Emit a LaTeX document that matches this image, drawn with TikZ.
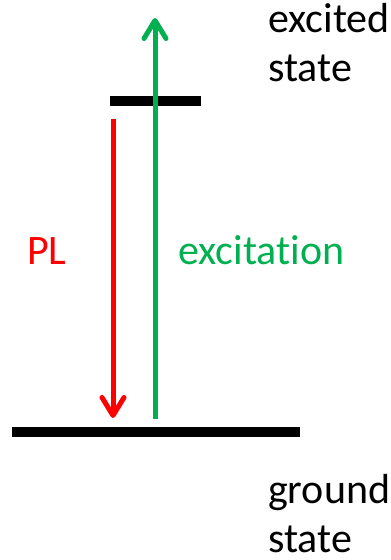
\documentclass[tikz,border=0pt]{standalone}
\usepackage{fontspec}
\setmainfont{Carlito}[Ligatures={NoCommon}]
\usetikzlibrary{arrows.meta}
\definecolor{plred}{HTML}{FF0000}
\definecolor{exgreen}{HTML}{00B050}
\begin{document}
\begin{tikzpicture}[x=1pt,y=1pt,
  level/.style={line width=10pt,black},
  trans/.style={line width=5pt,-{Straight Barb[length=18pt,width=22pt,round]}},
  lbl/.style={inner sep=0pt,font=\fontsize{42}{49}\selectfont,align=left}]
\useasboundingbox (0,0) rectangle (391,560);
% levels
\coordinate (exL) at (110,459);
\coordinate (exR) at (201,459);
\coordinate (gL) at (12,128);
\coordinate (gR) at (300,128);
\draw[level] (exL) -- (exR);
\draw[level] (gL) -- (gR);
% transitions
\coordinate (g1) at (155,141);
\coordinate (g2) at (155,542);
\coordinate (r1) at (113,441);
\coordinate (r2) at (113,142);
\draw[trans,exgreen] (g1) -- (g2);
\draw[trans,plred] (r1) -- (r2);
% labels
\node[lbl,anchor=base west] (ex) at (268,478) {excited\\state};
\node[lbl,anchor=base west] (gs) at (268,7) {ground\\state};
\node[lbl,anchor=base west,text=plred] (pl) at (27,295) {PL};
\node[lbl,anchor=base west,text=exgreen] (exc) at (178,295) {excitation};
\end{tikzpicture}
\end{document}
